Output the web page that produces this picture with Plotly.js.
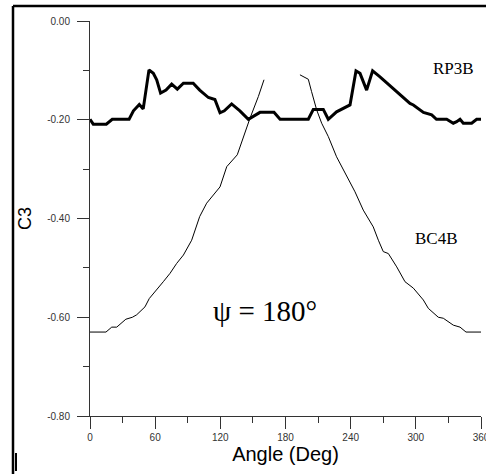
<!DOCTYPE html>
<html>
<head>
<meta charset="utf-8">
<script src="https://cdn.plot.ly/plotly-3.0.1.min.js"></script>
<style>html,body{margin:0;padding:0;background:#fff;}#chart{width:486px;height:474px;}</style>
</head>
<body>
<div id="chart"></div>
<script>
// RP3B (thick line)
const rp3bAngle = [0, 3, 15, 20.5, 36, 40, 45.4, 49, 54.3, 58.3, 61.4, 65, 70, 75.2, 80.4, 86, 95, 101, 109, 115, 119.7, 123.7, 130.4, 138, 145.8, 156.5, 169.4, 175, 201, 205.6, 214.8, 219.4, 227, 233.2, 239.4, 244.9, 248.6, 254.7, 260.2, 267, 280.8, 290, 294.6, 297.7, 307, 314.6, 319, 328.4, 334.5, 337.6, 340.7, 343.7, 351.4, 356, 360];
const rp3bC3 = [-0.199, -0.209, -0.209, -0.199, -0.199, -0.182, -0.169, -0.178, -0.099, -0.106, -0.119, -0.146, -0.140, -0.128, -0.138, -0.126, -0.126, -0.140, -0.155, -0.159, -0.186, -0.182, -0.168, -0.182, -0.199, -0.185, -0.185, -0.199, -0.199, -0.179, -0.179, -0.199, -0.184, -0.177, -0.170, -0.101, -0.106, -0.140, -0.101, -0.113, -0.140, -0.160, -0.167, -0.170, -0.185, -0.190, -0.199, -0.199, -0.207, -0.204, -0.199, -0.207, -0.207, -0.199, -0.199];

// BC4B (thin line), left branch
const bc4bLeftAngle = [0, 14.7, 20, 24.6, 33, 39, 43, 50.6, 54.6, 61.4, 67.5, 73.7, 79.8, 86, 93.6, 101, 107.4, 119.7, 125.9, 135.6, 141.2, 147.3, 155, 160.2];
const bc4bLeftC3 = [-0.630, -0.630, -0.620, -0.620, -0.604, -0.600, -0.595, -0.579, -0.562, -0.545, -0.528, -0.511, -0.491, -0.474, -0.444, -0.396, -0.369, -0.336, -0.295, -0.271, -0.234, -0.197, -0.153, -0.119];
// BC4B right branch
const bc4bRightAngle = [193.3, 201, 204, 208.7, 213.3, 219.4, 227, 236.3, 244, 251.6, 260.8, 265.5, 270, 274.7, 282.4, 290, 297.7, 306.9, 311.5, 320.7, 325.3, 334.5, 340.7, 346.2, 360];
const bc4bRightC3 = [-0.109, -0.118, -0.143, -0.180, -0.207, -0.234, -0.275, -0.315, -0.346, -0.383, -0.417, -0.444, -0.467, -0.471, -0.498, -0.528, -0.541, -0.565, -0.582, -0.600, -0.602, -0.616, -0.620, -0.630, -0.630];

const xTickVals = [0, 60, 120, 180, 240, 300, 360];
const yTickVals = [0, -0.2, -0.4, -0.6, -0.8];
const yTickText = ["0.00", "-0.20", "-0.40", "-0.60", "-0.80"];

const traces = [
  {x: rp3bAngle, y: rp3bC3, mode: 'lines', name: 'RP3B', line: {color: '#000', width: 3}},
  {x: bc4bLeftAngle, y: bc4bLeftC3, mode: 'lines', name: 'BC4B', line: {color: '#000', width: 1}},
  {x: bc4bRightAngle, y: bc4bRightC3, mode: 'lines', name: 'BC4B', line: {color: '#000', width: 1}}
];

const tickFont = {family: 'Arial, Liberation Sans, sans-serif', size: 10, color: '#333'};

const layout = {
  width: 486, height: 474,
  margin: {l: 90, r: 5, t: 21, b: 58},
  paper_bgcolor: '#fff', plot_bgcolor: '#fff',
  showlegend: false,
  xaxis: {
    range: [0, 360], tickvals: xTickVals, ticktext: xTickVals.map(String),
    ticks: 'outside', ticklen: 12, tickcolor: '#333', tickwidth: 1,
    minor: {dtick: 30, tick0: 0, ticks: 'outside', ticklen: 6, tickcolor: '#333', tickwidth: 1},
    showline: true, linecolor: '#333', linewidth: 1, showgrid: false, zeroline: false,
    tickfont: tickFont, ticklabeloverflow: 'allow',
    title: {text: 'Angle (Deg)', font: {family: 'Arial, Liberation Sans, sans-serif', size: 20, color: '#000'}, standoff: 3}
  },
  yaxis: {
    range: [-0.8, 0], tickvals: yTickVals, ticktext: yTickText,
    ticks: 'outside', ticklen: 12, tickcolor: '#333', tickwidth: 1,
    minor: {dtick: 0.1, tick0: 0, ticks: 'outside', ticklen: 6, tickcolor: '#333', tickwidth: 1},
    showline: true, linecolor: '#333', linewidth: 1, showgrid: false, zeroline: false,
    tickfont: tickFont, ticklabelstandoff: 5,
    title: {text: 'C3', font: {family: 'Arial, Liberation Sans, sans-serif', size: 18, color: '#000'}, standoff: 10}
  },
  shapes: [
    {type: 'line', xref: 'paper', yref: 'paper', x0: (13 - 90) / 391, x1: (13 - 90) / 391, y0: (416 - 6) / 395, y1: (416 - 480) / 395, line: {color: '#000', width: 2.5}},
    {type: 'line', xref: 'paper', yref: 'paper', x0: (13 - 90) / 391, x1: (490 - 90) / 391, y0: (416 - 6) / 395, y1: (416 - 6) / 395, line: {color: '#000', width: 2.5}},
    {type: 'line', xref: 'paper', yref: 'paper', x0: (16 - 90) / 391, x1: (16 - 90) / 391, y0: (416 - 453) / 395, y1: (416 - 471) / 395, line: {color: '#000', width: 2}}
  ],
  annotations: [
    {text: 'RP3B', x: 335, y: -0.096, xref: 'x', yref: 'y', showarrow: false, xanchor: 'center', yanchor: 'middle', font: {family: 'Liberation Serif, Times New Roman, serif', size: 17, color: '#000'}},
    {text: 'BC4B', x: 319, y: -0.440, xref: 'x', yref: 'y', showarrow: false, xanchor: 'center', yanchor: 'middle', font: {family: 'Liberation Serif, Times New Roman, serif', size: 17, color: '#000'}},
    {text: 'ψ = 180°', x: 161, y: -0.587, xref: 'x', yref: 'y', showarrow: false, xanchor: 'center', yanchor: 'middle', font: {family: 'Liberation Serif, Times New Roman, serif', size: 29, color: '#000'}}
  ]
};

Plotly.newPlot('chart', traces, layout, {displayModeBar: false, staticPlot: true});
</script>
</body>
</html>
